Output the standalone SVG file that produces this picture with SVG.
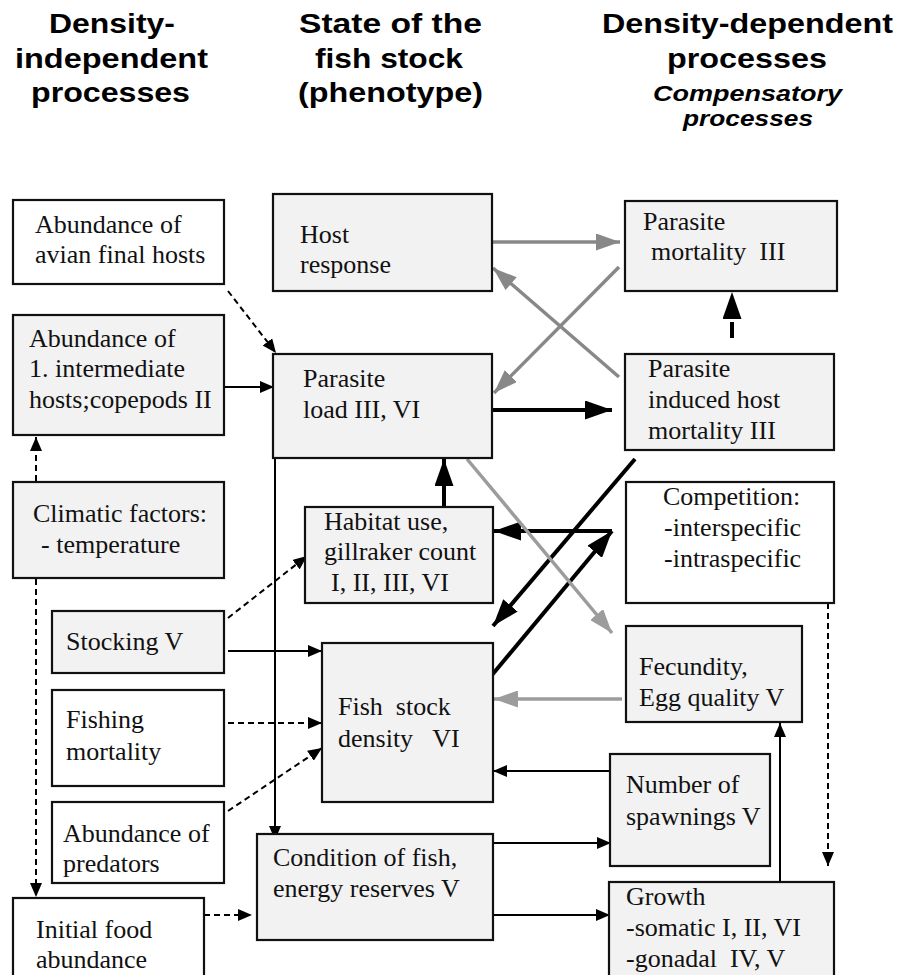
<svg xmlns="http://www.w3.org/2000/svg" width="899" height="975" viewBox="0 0 899 975">
<style>
.h{font-family:"Liberation Sans",Arial,sans-serif;font-weight:bold;font-size:27px;fill:#000}
.hi{font-family:"Liberation Sans",Arial,sans-serif;font-weight:bold;font-style:italic;font-size:22px;fill:#000}
.t{font-family:"Liberation Serif","Times New Roman",serif;font-size:26px;fill:#111}
.g{fill:#f2f2f2;stroke:#111;stroke-width:2.2}
.w{fill:#fff;stroke:#111;stroke-width:2.2}
.thin{fill:none;stroke:#000;stroke-width:2}
.dash{fill:none;stroke:#000;stroke-width:2;stroke-dasharray:6,4}
.thick{fill:none;stroke:#000;stroke-width:4}
.gr{fill:none;stroke:#888;stroke-width:3.5}
.gl{fill:none;stroke:#9c9c9c;stroke-width:3.5}
</style>
<defs>
<marker id="mt" markerUnits="userSpaceOnUse" markerWidth="14" markerHeight="12" refX="14" refY="6" orient="auto"><path d="M0,0 L14,6 L0,12 z" fill="#000"/></marker>
<marker id="mb" markerUnits="userSpaceOnUse" markerWidth="27" markerHeight="19" refX="27" refY="9.5" orient="auto"><path d="M0,0 L27,9.5 L0,19 z" fill="#000"/></marker>
<marker id="mg" markerUnits="userSpaceOnUse" markerWidth="24" markerHeight="17" refX="24" refY="8.5" orient="auto"><path d="M0,0 L24,8.5 L0,17 z" fill="#888"/></marker>
<marker id="ml" markerUnits="userSpaceOnUse" markerWidth="24" markerHeight="17" refX="24" refY="8.5" orient="auto"><path d="M0,0 L24,8.5 L0,17 z" fill="#9c9c9c"/></marker>
</defs>

<g id="headers">
<text class="h" x="49" y="33" textLength="126" lengthAdjust="spacingAndGlyphs">Density-</text>
<text class="h" x="15" y="68" textLength="193" lengthAdjust="spacingAndGlyphs">independent</text>
<text class="h" x="31" y="102" textLength="159" lengthAdjust="spacingAndGlyphs">processes</text>
<text class="h" x="299" y="33" textLength="183" lengthAdjust="spacingAndGlyphs">State of the</text>
<text class="h" x="315" y="68" textLength="148" lengthAdjust="spacingAndGlyphs">fish stock</text>
<text class="h" x="298" y="102" textLength="185" lengthAdjust="spacingAndGlyphs">(phenotype)</text>
<text class="h" x="602" y="33" textLength="291" lengthAdjust="spacingAndGlyphs">Density-dependent</text>
<text class="h" x="667" y="68" textLength="160" lengthAdjust="spacingAndGlyphs">processes</text>
<text class="hi" x="653" y="101" textLength="189" lengthAdjust="spacingAndGlyphs">Compensatory</text>
<text class="hi" x="683" y="126" textLength="130" lengthAdjust="spacingAndGlyphs">processes</text>
</g>

<g id="connectors">
<path class="dash" d="M228,291 L276,353" marker-end="url(#mt)"/>
<path class="thin" d="M224,387 L274,387" marker-end="url(#mt)"/>
<path class="dash" d="M36,481 L36,437" marker-end="url(#mt)"/>
<path class="dash" d="M36,579 L36,897" marker-end="url(#mt)"/>
<path class="gr" d="M492,242 L620,242" marker-end="url(#mg)"/>
<path class="gr" d="M619,267 L494,393" marker-end="url(#mg)"/>
<path class="gr" d="M619,377 L493,268" marker-end="url(#mg)"/>
<path class="thick" d="M492,410 L612,410" marker-end="url(#mb)"/>
<path class="thick" d="M732,338 L732,292" stroke-dasharray="16,30" marker-end="url(#mb)"/>
<path class="thick" d="M444,506 L444,459" marker-end="url(#mb)"/>
<path class="thick" d="M635,459 L493,626" marker-end="url(#mb)"/>
<path class="thick" d="M492,675 L612,531" marker-end="url(#mb)"/>
<path class="thick" d="M612,531 L494,531" marker-end="url(#mb)"/>
<path class="gl" d="M467,459 L612,633" marker-end="url(#ml)"/>
<path class="gl" d="M622,699 L494,699" marker-end="url(#ml)"/>
<path class="thin" d="M612,771 L493,771" marker-end="url(#mt)"/>
<path class="dash" d="M228,618 L307,556" marker-end="url(#mt)"/>
<path class="thin" d="M228,651 L322,651" marker-end="url(#mt)"/>
<path class="dash" d="M228,723 L322,723" marker-end="url(#mt)"/>
<path class="dash" d="M228,811 L322,748" marker-end="url(#mt)"/>
<path class="thin" d="M275,458 L275,840" marker-end="url(#mt)"/>
<path class="thin" d="M493,843 L611,843" marker-end="url(#mt)"/>
<path class="thin" d="M493,915 L610,915" marker-end="url(#mt)"/>
<path class="dash" d="M204,915 L252,915" stroke-dasharray="9,6" marker-end="url(#mt)"/>
<path class="thin" d="M780,882 L780,723" marker-end="url(#mt)"/>
<path class="dash" d="M828,603 L828,866" marker-end="url(#mt)"/>
</g>

<g id="avian">
<rect class="w" x="13" y="200" width="211" height="84"/>
<text class="t" x="35" y="233">Abundance of</text>
<text class="t" x="35" y="263">avian final hosts</text>
</g>
<g id="intermediate">
<rect class="g" x="13" y="315" width="211" height="120"/>
<text class="t" x="29" y="347">Abundance of</text>
<text class="t" x="29" y="377">1. intermediate</text>
<text class="t" x="29" y="408">hosts;copepods II</text>
</g>
<g id="climatic">
<rect class="g" x="13" y="482" width="211" height="96"/>
<text class="t" x="33" y="522">Climatic factors:</text>
<text class="t" x="41" y="553">- temperature</text>
</g>
<g id="stocking">
<rect class="g" x="52" y="611" width="172" height="62"/>
<text class="t" x="66" y="650">Stocking  V</text>
</g>
<g id="fishing">
<rect class="w" x="52" y="690" width="172" height="96"/>
<text class="t" x="66" y="728">Fishing</text>
<text class="t" x="66" y="760">mortality</text>
</g>
<g id="predators">
<rect class="w" x="52" y="802" width="172" height="81"/>
<text class="t" x="63" y="842">Abundance of</text>
<text class="t" x="63" y="872">predators</text>
</g>
<g id="food">
<rect class="w" x="13" y="898" width="191" height="90"/>
<text class="t" x="36" y="938">Initial food</text>
<text class="t" x="36" y="968">abundance</text>
</g>
<g id="host">
<rect class="g" x="273" y="194" width="219" height="97"/>
<text class="t" x="300" y="243">Host</text>
<text class="t" x="300" y="273">response</text>
</g>
<g id="parasiteload">
<rect class="g" x="273" y="354" width="219" height="104"/>
<text class="t" x="303" y="387">Parasite</text>
<text class="t" x="303" y="418">load III, VI</text>
</g>
<g id="habitat">
<rect class="g" x="305" y="507" width="188" height="96"/>
<text class="t" x="324" y="530">Habitat use,</text>
<text class="t" x="324" y="560">gillraker count</text>
<text class="t" x="331" y="591">I, II, III, VI</text>
</g>
<g id="fishstock">
<rect class="g" x="322" y="643" width="171" height="159"/>
<text class="t" x="338" y="715" xml:space="preserve">Fish  stock</text>
<text class="t" x="338" y="747" xml:space="preserve">density   VI</text>
</g>
<g id="condition">
<rect class="g" x="257" y="834" width="236" height="106"/>
<text class="t" x="273" y="866">Condition of fish,</text>
<text class="t" x="273" y="897">energy reserves V</text>
</g>
<g id="parasitemortality">
<rect class="g" x="625" y="201" width="212" height="90"/>
<text class="t" x="643" y="230">Parasite</text>
<text class="t" x="651" y="260" xml:space="preserve">mortality  III</text>
</g>
<g id="induced">
<rect class="g" x="625" y="354" width="209" height="96"/>
<text class="t" x="648" y="377">Parasite</text>
<text class="t" x="648" y="408">induced host</text>
<text class="t" x="648" y="439">mortality III</text>
</g>
<g id="competition">
<rect class="w" x="626" y="482" width="208" height="121"/>
<text class="t" x="663" y="505">Competition:</text>
<text class="t" x="664" y="536">-interspecific</text>
<text class="t" x="664" y="567">-intraspecific</text>
</g>
<g id="fecundity">
<rect class="g" x="626" y="626" width="176" height="96"/>
<text class="t" x="639" y="675">Fecundity,</text>
<text class="t" x="639" y="706">Egg quality V</text>
</g>
<g id="spawnings">
<rect class="g" x="610" y="754" width="160" height="112"/>
<text class="t" x="626" y="793">Number of</text>
<text class="t" x="626" y="825">spawnings V</text>
</g>
<g id="growth">
<rect class="g" x="609" y="882" width="225" height="106"/>
<text class="t" x="626" y="905">Growth</text>
<text class="t" x="626" y="936">-somatic I, II, VI</text>
<text class="t" x="626" y="967" xml:space="preserve">-gonadal  IV, V</text>
</g>
</svg>
